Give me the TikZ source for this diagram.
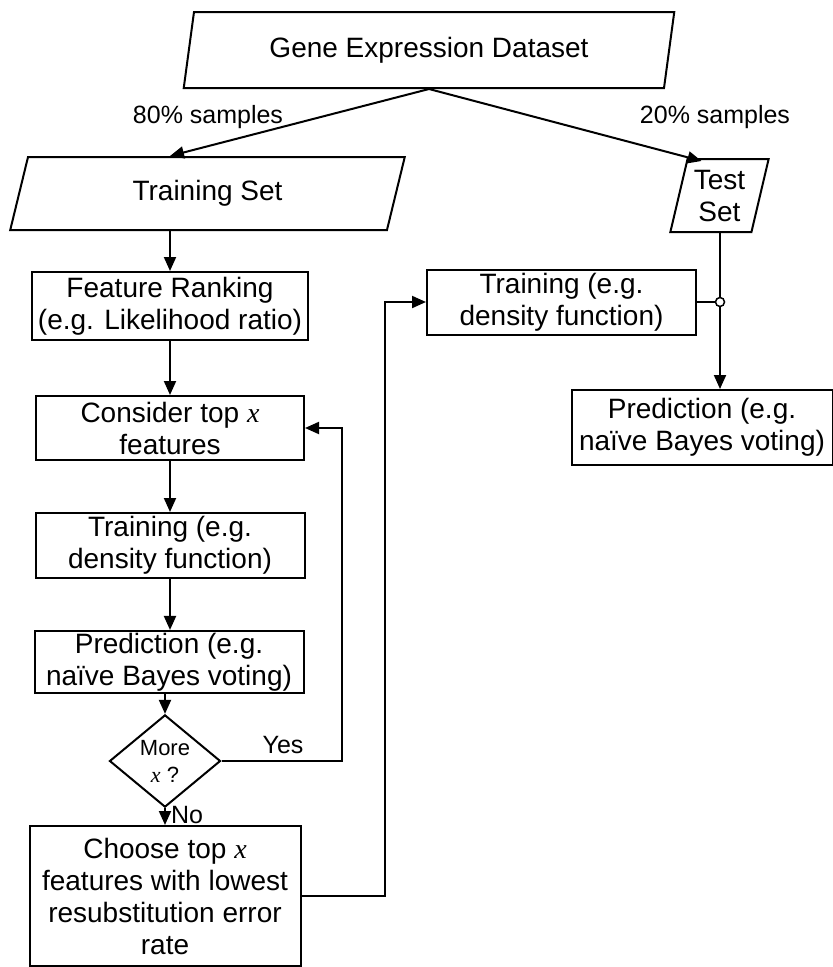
\documentclass[tikz,border=0pt]{standalone}
\usepackage{fontspec}
\setmainfont{Liberation Sans}
\newfontfamily\timesfont{Liberation Serif}
\usetikzlibrary{shapes.geometric,arrows.meta,calc}
\newcommand{\varx}{{\timesfont\itshape x}}

\begin{document}
\begin{tikzpicture}[x=1pt, y=-1pt, line width=2pt,
  >={Triangle[length=14pt,width=12pt]},
  every node/.style={font=\fontsize{28}{32}\selectfont},
  box/.style = {draw, rectangle, align=center, inner sep=2pt},
  dataset/.style = {draw, trapezium, trapezium stretches=true, align=center, inner sep=1pt},
  decision/.style = {draw, diamond, align=center, inner sep=0pt, minimum width=111, minimum height=89},
  edgelabel/.style = {font=\fontsize{25}{28}\selectfont},
  jointdot/.style = {draw, circle, fill=white, inner sep=0pt, minimum size=9, line width=1.5pt}]
    \useasboundingbox (0,0) rectangle (833,967);

    % data sets
    \node[dataset, trapezium left angle=76, trapezium right angle=104, minimum width=492, minimum height=76] (data) at (429,50) {Gene Expression Dataset};
    \node[dataset, trapezium left angle=75, trapezium right angle=105, minimum width=395, minimum height=73] (trainset) at (207.5,193.5) {Training Set};
    \node[dataset, trapezium left angle=75, trapezium right angle=105, minimum width=99, minimum height=73] (testset) at (719.5,195.5) {Test\\Set};

    % left column
    \node[box, minimum width=276, minimum height=68] (rank) at (170,306) {Feature Ranking\\(e.g. Likelihood ratio)};
    \node[box, minimum width=268, minimum height=64] (top) at (170,428) {Consider top \varx\\features};
    \node[box, minimum width=269, minimum height=65] (train) at (170,545.5) {Training (e.g.\\density function)};
    \node[box, minimum width=269, minimum height=62] (pred) at (169,662) {Prediction (e.g.\\na\"ive Bayes voting)};
    \node[decision, font=\fontsize{22}{27}\selectfont] (more) at (165,761) {More\\\varx\ ?};
    \node[box, minimum width=271, minimum height=140] (choose) at (165,896) {Choose top \varx\\features with lowest\\resubstitution error\\rate};

    % right column
    \node[box, minimum width=269, minimum height=65] (train2) at (561.5,302) {Training (e.g.\\density function)};
    \node[box, minimum width=261, minimum height=75] (pred2) at (702,427.5) {Prediction (e.g.\\na\"ive Bayes voting)};
    \node[jointdot] (jn) at (720,302) {};

    % labels
    \node[edgelabel] (split80) at (208,117) {80\% samples};
    \node[edgelabel] (split20) at (715,117) {20\% samples};
    \node[edgelabel] (yes) at (283,745) {Yes};
    \node[edgelabel] (no) at (187,815) {No};

    \draw[->] (data.south) -- (trainset.north -| rank);
    \draw[->] (data.south) -- ($(testset.north west)!0.22!(testset.north east)$);
    \draw[->] (trainset.south -| rank) -- (rank);
    \draw[->] (rank) -- (top);
    \draw[->] (top) -- (train);
    \draw[->] (train) -- (pred.north -| train);
    \draw[->] (pred.south -| more) -- (more);
    \draw[->] (more) -- (choose);
    \draw[->] (more.east) -- ++(120,0) |- (top.east);
    \draw[->] (choose.east) -- ++(83,0) |- (train2.west);
    \draw (testset.south -| jn) -- (jn);
    \draw (train2.east) -- (jn);
    \draw[->] (jn) -- (pred2.north -| jn);

\end{tikzpicture}
\end{document}
